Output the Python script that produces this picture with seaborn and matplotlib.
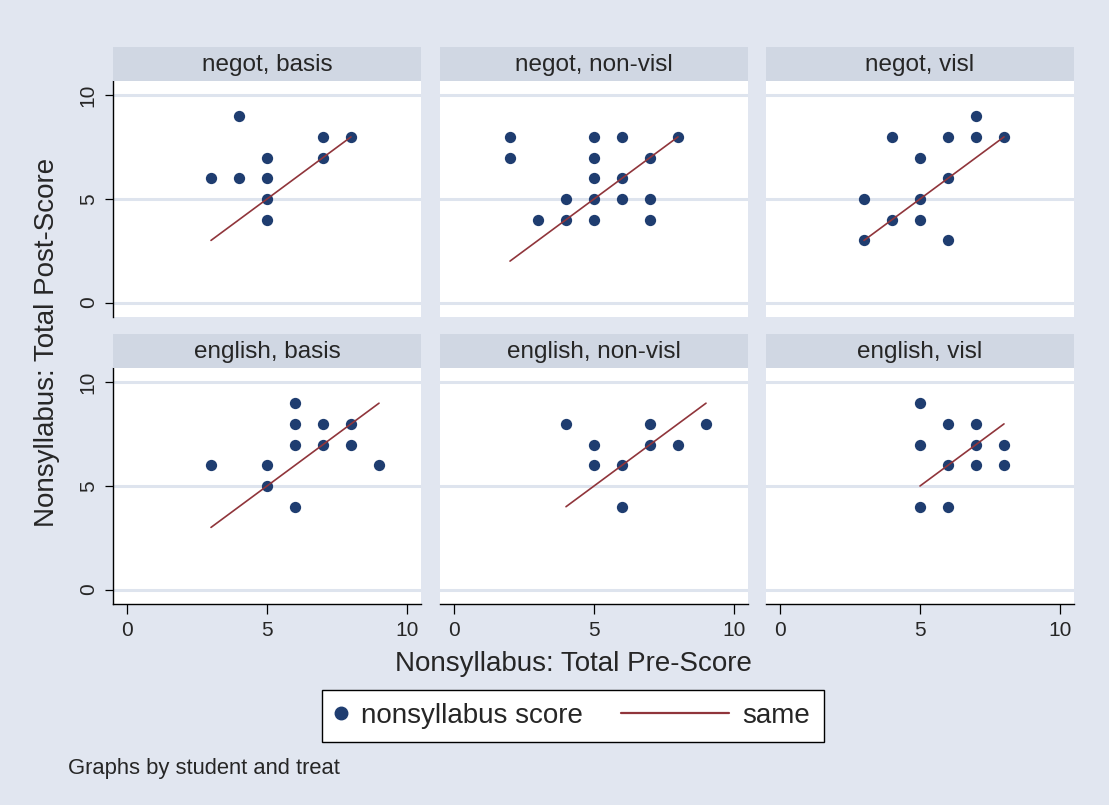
import matplotlib
matplotlib.use("Agg")
import matplotlib.pyplot as plt
import seaborn as sns
import pandas as pd
import numpy as np
from matplotlib.lines import Line2D
from matplotlib.legend_handler import HandlerLine2D

# ---------------- data ----------------
students = ["negot", "english"]
treats = ["basis", "non-visl", "visl"]

negot_basis_pre = [3, 4, 4, 5, 5, 5, 5, 7, 7, 8]
negot_basis_post = [6, 9, 6, 7, 6, 5, 4, 8, 7, 8]

negot_nonvisl_pre = [2, 2, 3, 4, 4, 5, 5, 5, 5, 5, 6, 6, 6, 7, 7, 7, 8]
negot_nonvisl_post = [8, 7, 4, 5, 4, 8, 7, 6, 5, 4, 8, 6, 5, 7, 5, 4, 8]

negot_visl_pre = [3, 3, 4, 4, 5, 5, 5, 6, 6, 6, 7, 7, 8]
negot_visl_post = [5, 3, 8, 4, 7, 5, 4, 8, 6, 3, 9, 8, 8]

english_basis_pre = [3, 5, 5, 6, 6, 6, 6, 7, 7, 8, 8, 9]
english_basis_post = [6, 6, 5, 9, 8, 7, 4, 8, 7, 8, 7, 6]

english_nonvisl_pre = [4, 5, 5, 6, 6, 7, 7, 8, 9]
english_nonvisl_post = [8, 7, 6, 6, 4, 8, 7, 7, 8]

english_visl_pre = [5, 5, 5, 6, 6, 6, 7, 7, 7, 8, 8]
english_visl_post = [9, 7, 4, 8, 6, 4, 8, 7, 6, 7, 6]

x_ticks = [0, 5, 10]
y_ticks = [0, 5, 10]

panels = {
    ("negot", "basis"): (negot_basis_pre, negot_basis_post),
    ("negot", "non-visl"): (negot_nonvisl_pre, negot_nonvisl_post),
    ("negot", "visl"): (negot_visl_pre, negot_visl_post),
    ("english", "basis"): (english_basis_pre, english_basis_post),
    ("english", "non-visl"): (english_nonvisl_pre, english_nonvisl_post),
    ("english", "visl"): (english_visl_pre, english_visl_post),
}
rows = []
for (stu, tr), (pre, post) in panels.items():
    for a, b in zip(pre, post):
        rows.append({"student": stu, "treat": tr, "pre": a, "post": b})
df = pd.DataFrame(rows)

# ---------------- style ----------------
BG = "#E1E6F0"
STRIP = "#D0D7E3"
GRID = "#DEE4EE"
NAVY = "#1F3D70"
MAROON = "#90353B"
FONT = ["Liberation Sans", "DejaVu Sans"]

sns.set_style("white")
plt.rcParams["font.family"] = FONT

W, H = 1109, 805
fig = plt.figure(figsize=(W / 100, H / 100), dpi=100, facecolor=BG)

col_left = [113, 440, 766]
col_w = 308
row_top = [81, 368]
row_h = 236
strip_h = 34


def fx(px):
    return px / W


def fy(py):
    return 1 - py / H


for r, stu in enumerate(students):
    for c, tr in enumerate(treats):
        left = col_left[c]
        top = row_top[r]
        ax = fig.add_axes([fx(left), fy(top + row_h), col_w / W, row_h / H])
        ax.set_facecolor("white")
        sub = df[(df.student == stu) & (df.treat == tr)]
        for yv in y_ticks:
            ax.axhline(yv, color=GRID, lw=2.2, zorder=0)
        sns.scatterplot(data=sub, x="pre", y="post", ax=ax, color=NAVY,
                        s=66, linewidth=0, zorder=3, legend=False)
        sns.lineplot(data=sub, x="pre", y="pre", ax=ax, color=MAROON,
                     lw=1.2, errorbar=None, zorder=4, legend=False)
        ax.set_xlim(-0.5, 10.5)
        ax.set_ylim(-0.7, 10.7)
        ax.set_xlabel("")
        ax.set_ylabel("")
        for s in ax.spines.values():
            s.set_visible(False)
        ax.set_xticks(x_ticks)
        ax.set_yticks(y_ticks)
        if c == 0:
            ax.spines["left"].set_visible(True)
            ax.spines["left"].set_color("black")
            ax.spines["left"].set_linewidth(1.0)
            ax.tick_params(axis="y", left=True, length=6, width=0.9,
                           direction="out", color="black", labelsize=15,
                           pad=5)
            for lab in ax.get_yticklabels():
                lab.set_rotation(90)
                lab.set_va("center")
        else:
            ax.tick_params(axis="y", left=False, labelleft=False)
        if r == 1:
            ax.spines["bottom"].set_visible(True)
            ax.spines["bottom"].set_color("black")
            ax.spines["bottom"].set_linewidth(1.0)
            ax.tick_params(axis="x", bottom=True, length=7, width=0.9,
                           direction="out", color="black", labelsize=15,
                           pad=5)
        else:
            ax.tick_params(axis="x", bottom=False, labelbottom=False)

        # strip header
        sax = fig.add_axes([fx(left), fy(top), col_w / W, strip_h / H])
        sax.set_facecolor(STRIP)
        sax.set_xticks([])
        sax.set_yticks([])
        for s in sax.spines.values():
            s.set_visible(False)
        sax.text(0.5, 0.48, f"{stu}, {tr}", ha="center", va="center",
                 fontsize=17.5, transform=sax.transAxes)

fig.text(fx(47), fy(342), "Nonsyllabus: Total Post-Score", rotation=90,
         ha="center", va="center", fontsize=20)
fig.text(fx(573), fy(664), "Nonsyllabus: Total Pre-Score",
         ha="center", va="center", fontsize=20)


class LongLineHandler(HandlerLine2D):
    """Draw the line handle extending leftwards beyond its (narrow) box."""

    def __init__(self, extra, **kw):
        super().__init__(**kw)
        self.extra = extra

    def create_artists(self, legend, orig_handle, xdescent, ydescent,
                       width, height, fontsize, trans):
        artists = super().create_artists(legend, orig_handle, xdescent,
                                         ydescent, width, height, fontsize,
                                         trans)
        line = artists[0]
        xd = np.asarray(line.get_xdata(), dtype=float)
        if len(xd) >= 2:
            line.set_xdata(np.linspace(xd[0] - self.extra, xd[-1], len(xd)))
        return artists


LEG_FS = 20
handles = [
    Line2D([], [], marker="o", color=NAVY, linestyle="none", markersize=9),
    Line2D([], [], color=MAROON, lw=1.6),
]
leg = fig.legend(handles, ["nonsyllabus score", "same"], loc="center",
                 bbox_to_anchor=(fx(573), fy(716)), ncol=2, frameon=True,
                 fancybox=False, edgecolor="black", facecolor="white",
                 framealpha=1.0,
                 fontsize=LEG_FS, handlelength=0.4, handletextpad=0.5,
                 columnspacing=4.85, borderpad=0.48, borderaxespad=0,
                 handler_map={handles[1]: LongLineHandler(extra=96 * 72 / 100)})
leg.get_frame().set_linewidth(1.0)

fig.text(fx(68), fy(768), "Graphs by student and treat", ha="left",
         va="center", fontsize=15.8)

fig.savefig("out.png", dpi=100, facecolor=BG)
